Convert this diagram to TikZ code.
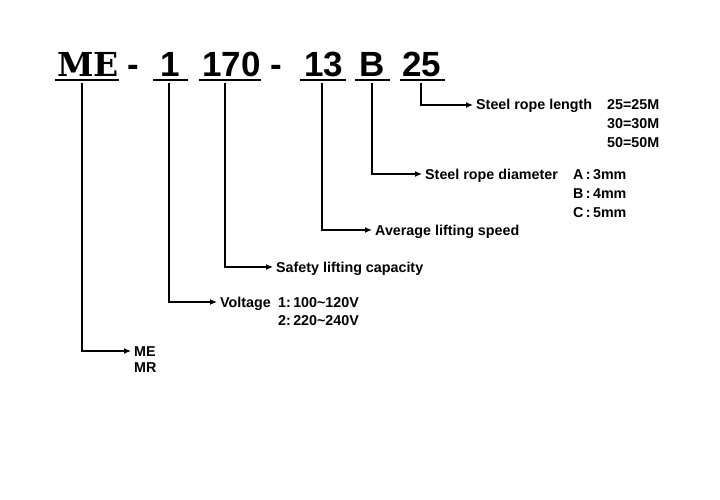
\documentclass[tikz,border=0pt]{standalone}
\usepackage{fontspec}
\setmainfont{Liberation Sans}
\newfontfamily\serifbig{DejaVu Serif}
\usetikzlibrary{arrows.meta}
\begin{document}
\begin{tikzpicture}[x=1pt,y=-1pt,
  code/.style={anchor=base,inner sep=0pt,font=\fontsize{35}{35}\selectfont\bfseries},
  codeserif/.style={anchor=base,inner sep=0pt,font=\fontsize{33}{33}\selectfont\serifbig\bfseries},
  uline/.style={line width=1.4pt},
  conn/.style={line width=1.2pt,-{Latex[length=7pt,width=6pt]},shorten >=3pt},
  lbl/.style={anchor=west,inner sep=0pt,text height=10pt,text depth=0pt,font=\fontsize{14.3}{14.3}\selectfont\bfseries},
  opt/.style={lbl}]
\useasboundingbox (0,0) rectangle (720,500);
\fill[white] (0,0) rectangle (720,500);
% code parts
\node[codeserif] (cME) at (88,77) {ME};
\node[code] (d1) at (133,77) {-};
\node[code] (c1) at (170,77) {1};
\node[code] (c170) at (231.5,77) {170};
\node[code] (d2) at (276,77) {-};
\node[code] (c13) at (324,77) {13};
\node[code] (cB) at (372,77) {B};
\node[code] (c25) at (421.5,77) {25};
% underlines
\draw[uline] (55,80) -- (119,80);
\draw[uline] (153,80) -- (188,80);
\draw[uline] (199,80) -- (261,80);
\draw[uline] (300,80) -- (346,80);
\draw[uline] (355,80) -- (390,80);
\draw[uline] (400,80) -- (445,80);
% drop points
\coordinate (pME) at (82,83);
\coordinate (p1) at (169,83);
\coordinate (p170) at (225,83);
\coordinate (p13) at (322,83);
\coordinate (pB) at (372,83);
\coordinate (p25) at (421,83);
% labels
\node[lbl] (l25) at (476,105) {Steel rope length};
\node[opt] (o25a) at (607,105) {25=25M};
\node[opt] (o25b) at (607,123.5) {30=30M};
\node[opt] (o25c) at (607,142) {50=50M};
\node[lbl] (lB) at (425,174) {Steel rope diameter};
\node[opt] (oBa) at (573,174) {A\,:\,3mm};
\node[opt] (oBb) at (573,193) {B\,:\,4mm};
\node[opt] (oBc) at (573,212) {C\,:\,5mm};
\node[lbl] (l13) at (375,230) {Average lifting speed};
\node[lbl] (l170) at (276,267) {Safety lifting capacity};
\node[lbl] (l1) at (220,302) {Voltage};
\node[opt] (o1a) at (278,302) {1:\,100\textasciitilde120V};
\node[opt] (o1b) at (278,320.5) {2:\,220\textasciitilde240V};
\node[lbl] (lME) at (134,351) {ME};
\node[opt] (oMR) at (134,367) {MR};
% connectors
\draw[conn] (p25) |- (l25.west);
\draw[conn] (pB) |- (lB.west);
\draw[conn] (p13) |- (l13.west);
\draw[conn] (p170) |- (l170.west);
\draw[conn] (p1) |- (l1.west);
\draw[conn] (pME) |- (lME.west);
\end{tikzpicture}
\end{document}
